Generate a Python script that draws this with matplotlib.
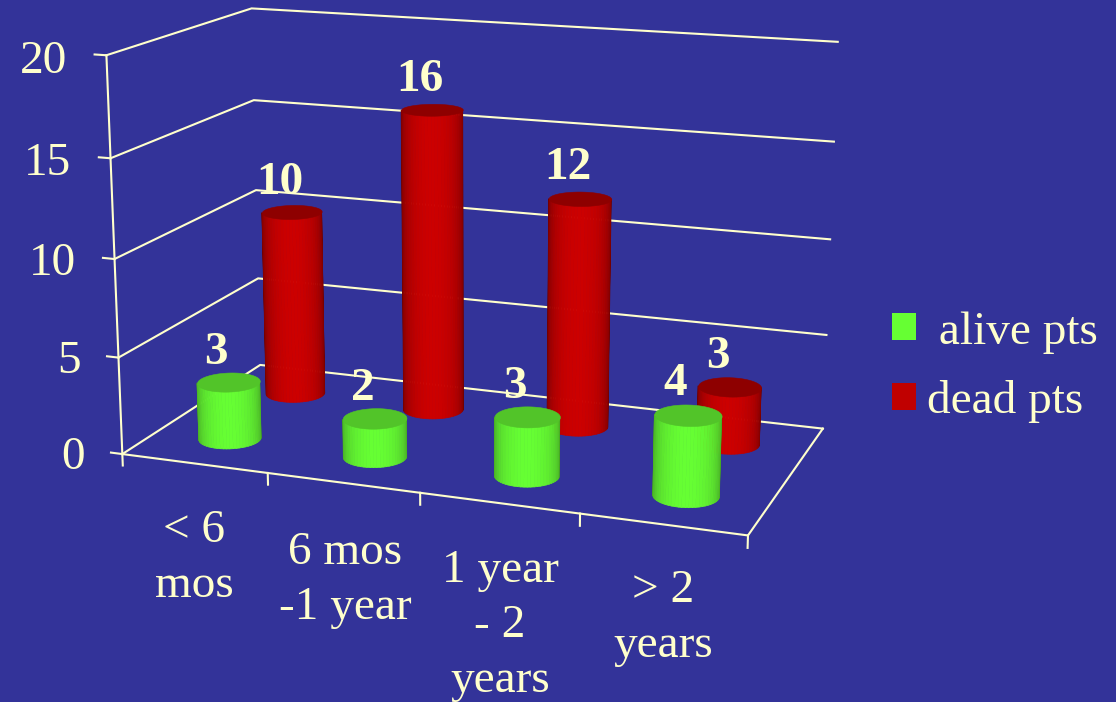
import matplotlib
matplotlib.use('Agg')
import matplotlib.pyplot as plt
import numpy as np
from matplotlib.patches import Patch
from mpl_toolkits.mplot3d import proj3d
from mpl_toolkits.mplot3d.art3d import Poly3DCollection

categories = ['< 6\nmos', '6 mos\n-1 year', '1 year\n- 2\nyears', '> 2\nyears']
alive = [3, 2, 3, 4]
dead = [10, 16, 12, 3]
z_ticks = [0, 5, 10, 15, 20]

BG = '#333399'
CREAM = '#FFFFCC'
FONT = 'Liberation Serif'

# camera found by fitting the chart corners to the picture
ELEV, AZIM, FOCAL = 14.403, -69.756, 0.5406
BOX = (1.5886, 0.7942, 1)
SIZE, CX, CY = 801.88, 467.36, 259.84
W, H = 1116, 702


def quad_area(ax, quad):
    # signed area on screen, tells front faces from back faces
    xs, ys, zs = zip(*quad)
    u, v, _ = proj3d.proj_transform(np.array(xs), np.array(ys), np.array(zs), ax.get_proj())
    return 0.5 * np.sum(u * np.roll(v, -1) - np.roll(u, -1) * v), u.mean()


def cylinder(ax, x, y, height, side_mid, side_edge, top, z):
    rx, ry = 0.197, 0.1
    view = np.radians(AZIM)
    theta = view + np.linspace(-np.pi, np.pi, 61)
    faces = []
    for a, b in zip(theta[:-1], theta[1:]):
        x1, y1 = x + rx * np.cos(a), y + ry * np.sin(a)
        x2, y2 = x + rx * np.cos(b), y + ry * np.sin(b)
        quad = [(x1, y1, 0), (x2, y2, 0), (x2, y2, height), (x1, y1, height)]
        area, u = quad_area(ax, quad)
        faces.append((quad, area, u))
    biggest = max(abs(f[1]) for f in faces)
    sign = np.sign(faces[30][1])
    faces = [f for f in faces if f[1] * sign > 0.02 * biggest]
    us = [f[2] for f in faces]
    mid, half = (max(us) + min(us)) / 2, (max(us) - min(us)) / 2
    quads, cols = [], []
    for quad, _, u in faces:
        t = (1 - min(abs(u - mid) / half, 1) ** 2) ** 0.4
        quads.append(quad)
        cols.append(np.array(side_edge) * (1 - t) + np.array(side_mid) * t)
    ax.add_collection3d(Poly3DCollection(quads, facecolors=cols, edgecolors=cols, linewidths=0.5,
                                         joinstyle='round', zorder=z))
    # lid
    lid = np.linspace(0, 2 * np.pi, 80)
    verts = list(zip(x + rx * np.cos(lid), y + ry * np.sin(lid), np.full(lid.shape, height)))
    ax.add_collection3d(Poly3DCollection([verts], facecolor=top, edgecolor=top, linewidth=0.4, zorder=z + 0.5))


def put_text(ax, x, y, z, s, **kw):
    a, b, _ = proj3d.proj_transform(x, y, z, ax.get_proj())
    ax.text2D(a, b, s, transform=ax.transData, color=CREAM, family=FONT, **kw)


fig = plt.figure(figsize=(W / 100, H / 100), dpi=100, facecolor=BG)
ax = fig.add_subplot(projection='3d', computed_zorder=False)
ax.set_position([(CX - SIZE / 2) / W, (H - CY - SIZE / 2) / H, SIZE / W, SIZE / H])
ax.set_xlim(0, 4)
ax.set_ylim(0, 1)
ax.set_zlim(0, 20)
ax.view_init(elev=ELEV, azim=AZIM)
ax.set_proj_type('persp', focal_length=FOCAL)
ax.set_box_aspect(BOX)
ax.set_axis_off()
ax.patch.set_visible(False)

lw = 1.5
# walls and floor
for z in z_ticks:
    ax.plot([0, 0, 4], [0, 1, 1], [z, z, z], color=CREAM, lw=lw, zorder=1)
    ax.plot([0, -0.08], [0, 0], [z, z], color=CREAM, lw=lw, zorder=1)
    put_text(ax, -0.27, 0, z - 0.45, str(z), fontsize=34, ha='right', va='center')
ax.plot([0, 0], [0, 0], [0, 20], color=CREAM, lw=lw, zorder=1)
ax.plot([0, 4, 4], [0, 0, 1], [0, 0, 0], color=CREAM, lw=lw, zorder=1)
for i in range(5):
    ax.plot([i, i], [0, 0], [0, -0.6], color=CREAM, lw=lw, zorder=1)

# back row first so the front row covers it
for i, v in enumerate(dead):
    cylinder(ax, i + 0.5, 0.75, v, (0.80, 0, 0), (0.42, 0, 0), '#8E0000', 10 + i)
for i, v in enumerate(alive):
    cylinder(ax, i + 0.5, 0.25, v, (0.40, 1, 0.2), (0.26, 0.62, 0.13), '#52C429', 20 + i)

for i in range(4):
    put_text(ax, i + 0.42, 0.75, dead[i] + 1.5, str(dead[i]), fontsize=34,
             weight='bold', ha='center', va='center', zorder=40)
    put_text(ax, i + 0.42, 0.25, alive[i] + 1.45, str(alive[i]), fontsize=34,
             weight='bold', ha='center', va='center', zorder=40)

# one text per line, the line pitch does not follow linespacing closely enough
label_pos = [(194, 542), (345, 564), (500, 582), (663, 602)]
for (px, py), lab in zip(label_pos, categories):
    for k, line in enumerate(lab.split('\n')):
        fig.text(px / W, 1 - (py + k * 55) / H, line, color=CREAM, fontsize=34, family=FONT,
                 ha='center', va='baseline')

handles = [Patch(color='#66FF33', lw=0), Patch(color='#C00000', lw=0)]
fig.legend(handles, [' alive pts', 'dead pts'], loc='upper left', bbox_to_anchor=(892 / W, 1 - 311 / H),
           frameon=False, prop={'family': FONT, 'size': 34}, labelcolor=CREAM, borderpad=0, borderaxespad=0,
           handlelength=0.51, handleheight=0.51, handletextpad=0.23, labelspacing=0.56)

fig.savefig('out.png', dpi=100, facecolor=BG)
